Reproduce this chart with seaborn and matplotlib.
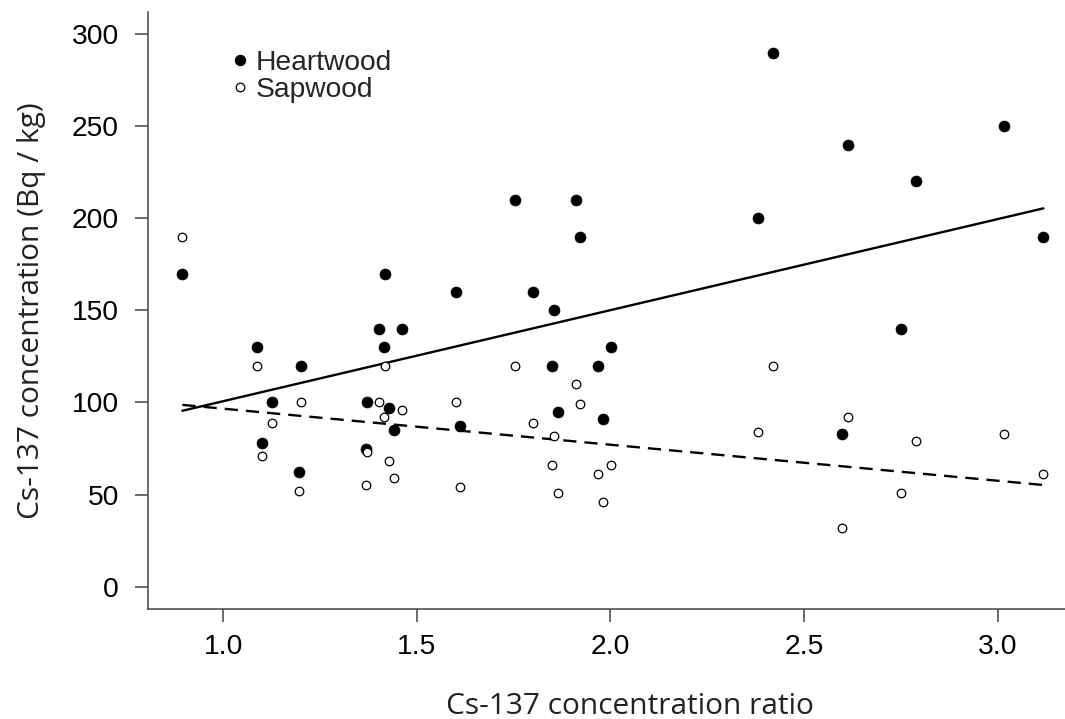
import matplotlib
matplotlib.use("Agg")
import matplotlib.pyplot as plt
import pandas as pd
import seaborn as sns
from matplotlib.lines import Line2D

# Heartwood / sapwood Cs-137 ratio and the two concentrations (Bq/kg)
ratio = [0.895, 1.087, 1.101, 1.127, 1.195, 1.201, 1.368, 1.371, 1.403, 1.415,
         1.418, 1.429, 1.442, 1.461, 1.602, 1.612, 1.753, 1.799, 1.849, 1.855,
         1.864, 1.911, 1.922, 1.968, 1.980, 2.002, 2.382, 2.419, 2.599, 2.614,
         2.750, 2.789, 3.017, 3.118]
heartwood = [170, 130, 78, 100, 62, 120, 75, 100, 140, 130,
             170, 97, 85, 140, 160, 87, 210, 160, 120, 150,
             95, 210, 190, 120, 91, 130, 200, 290, 83, 240,
             140, 220, 250, 190]
sapwood = [190, 120, 71, 89, 52, 100, 55, 73, 100, 92,
           120, 68, 59, 96, 100, 54, 120, 89, 66, 82,
           51, 110, 99, 61, 46, 66, 84, 120, 32, 92,
           51, 79, 83, 61]

# Fitted trend lines, evaluated at the ends of the ratio range
fit_ratio = [0.895, 3.118]
heartwood_fit = [95.5, 205.4]
sapwood_fit = [98.7, 55.2]

x_ticks = [1.0, 1.5, 2.0, 2.5, 3.0]
y_ticks = [0, 50, 100, 150, 200, 250, 300]

df = pd.DataFrame({"ratio": ratio, "Heartwood": heartwood, "Sapwood": sapwood})
fits = pd.DataFrame({"ratio": fit_ratio, "Heartwood": heartwood_fit,
                     "Sapwood": sapwood_fit})

sns.set_style("ticks")
plt.rcParams["font.family"] = ["Liberation Sans", "DejaVu Sans"]

fig = plt.figure(figsize=(10.65, 7.19), dpi=100)
ax = fig.add_axes([0.1389, 0.1533, 0.8732, 0.830])

spine_col = "#444444"

# Points
sns.scatterplot(data=df, x="ratio", y="Heartwood", ax=ax, s=62,
                color="black", edgecolor="black", linewidth=0.5, zorder=3)
sns.scatterplot(data=df, x="ratio", y="Sapwood", ax=ax, s=38,
                facecolor="white", edgecolor="black", linewidth=0.9, zorder=3)

# Trend lines
sns.lineplot(data=fits, x="ratio", y="Heartwood", ax=ax, color="black",
             lw=1.7, zorder=2)
sns.lineplot(data=fits, x="ratio", y="Sapwood", ax=ax, color="black",
             lw=1.7, zorder=2, linestyle=(0, (5.6, 3.4)))

ax.set_xlim(0.806, 3.207)
ax.set_ylim(-12, 312)
ax.set_xticks(x_ticks)
ax.set_xticklabels([f"{v:.1f}" for v in x_ticks])
ax.set_yticks(y_ticks)
ax.set_yticklabels([str(v) for v in y_ticks])

for side in ("top", "right"):
    ax.spines[side].set_visible(False)
for side in ("left", "bottom"):
    ax.spines[side].set_color(spine_col)
    ax.spines[side].set_linewidth(1.1)

ax.tick_params(axis="both", direction="out", length=9.4, width=1.1,
               color=spine_col, labelsize=20.3, labelcolor="black")
ax.tick_params(axis="y", pad=11.5)
ax.tick_params(axis="x", pad=9)

ax.set_xlabel("Cs-137 concentration ratio", fontfamily="Open Sans",
              fontsize=21.5, color="#222222")
ax.set_ylabel("Cs-137 concentration (Bq / kg)", fontfamily="Open Sans",
              fontsize=21.5, color="#222222")
ax.xaxis.label.set_va("center")
ax.yaxis.label.set_va("center")
ax.xaxis.set_label_coords(0.518, -0.163)
ax.yaxis.set_label_coords(-0.125, 0.5)

handles = [
    Line2D([], [], marker="o", ls="none", markersize=7.2,
           markerfacecolor="black", markeredgecolor="black"),
    Line2D([], [], marker="o", ls="none", markersize=6.2,
           markerfacecolor="white", markeredgecolor="black", markeredgewidth=0.9),
]
ax.legend(handles, ["Heartwood", "Sapwood"], loc="upper left",
          bbox_to_anchor=(0.090, 0.937), frameon=False, fontsize=20.3,
          handlelength=0.6, handletextpad=0.25, labelspacing=0.06,
          borderpad=0.0, borderaxespad=0.0)

fig.savefig("out.png", dpi=100)
